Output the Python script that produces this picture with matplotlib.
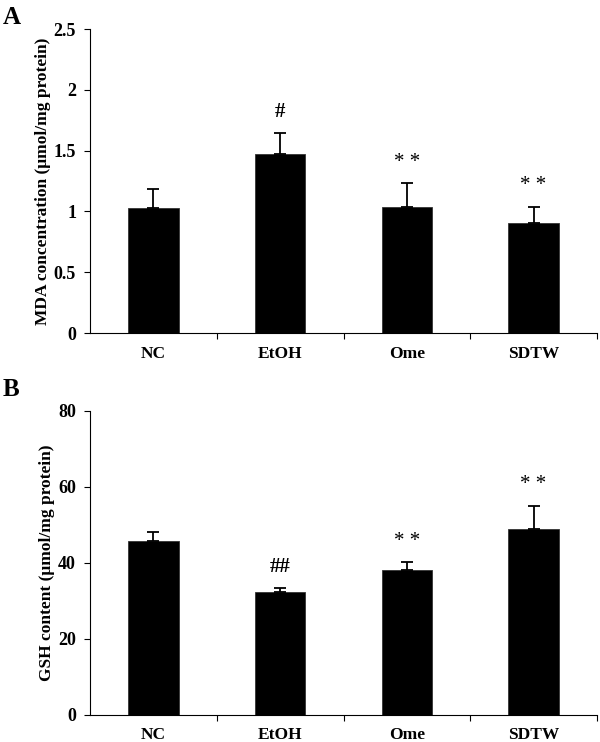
import matplotlib
matplotlib.use("Agg")
import matplotlib.pyplot as plt

plt.rcParams['font.family'] = ['Liberation Serif', 'DejaVu Serif']
plt.rcParams['font.weight'] = 'bold'

groups = ["NC", "EtOH", "Ome", "SDTW"]

# Panel A: MDA
mda_mean = [1.03, 1.47, 1.04, 0.905]
mda_err = [0.155, 0.175, 0.19, 0.135]
mda_marks = ["", "#", "* *", "* *"]

# Panel B: GSH
gsh_mean = [45.8, 32.3, 38.2, 48.8]
gsh_err = [2.2, 1.0, 2.0, 6.2]
gsh_marks = ["", "##", "* *", "* *"]


def draw_panel(ax, means, errs, marks, ylim, yticks, ylabel, mark_gap):
    x = list(range(len(groups)))
    ax.bar(x, means, width=0.4, color="black", edgecolor="#333333", linewidth=0.6, zorder=2)
    ax.errorbar(x, means, yerr=[[0] * len(errs), errs], fmt="none", ecolor="black",
                elinewidth=1.3, capsize=4, capthick=1.3, zorder=3)
    for xi, m, e, s in zip(x, means, errs, marks):
        if s:
            ax.text(xi, m + e + mark_gap, s, ha="center", va="center", fontsize=15,
                    fontweight="normal" if s.startswith("*") else "bold")
    ax.set_xlim(-0.5, 3.5)
    ax.set_ylim(*ylim)
    ax.set_yticks(yticks)
    ax.set_yticklabels([("%g" % t) for t in yticks], fontsize=13, fontweight="bold")
    ax.set_xticks([0.5, 1.5, 2.5, 3.5])
    ax.set_xticklabels([])
    ax.set_xticks(x, minor=True)
    ax.set_xticklabels(groups, minor=True, fontsize=12.5, fontweight="bold")
    ax.tick_params(axis="x", which="minor", length=0, pad=9)
    ax.tick_params(axis="x", which="major", length=4, direction="out")
    ax.tick_params(axis="y", length=4, direction="out", pad=6)
    ax.spines["top"].set_visible(False)
    ax.spines["right"].set_visible(False)
    ax.set_ylabel(ylabel, fontsize=12.5, fontweight="bold", labelpad=2)


fig = plt.figure(figsize=(6.0, 7.42), dpi=100)
ax1 = fig.add_axes([0.15, 0.5512, 0.845, 0.4097])
ax2 = fig.add_axes([0.15, 0.0364, 0.845, 0.4101])

draw_panel(ax1, mda_mean, mda_err, mda_marks, (0, 2.5), [0, 0.5, 1, 1.5, 2, 2.5],
           "MDA concentration (\u03bcmol/mg protein)", 0.17)
draw_panel(ax2, gsh_mean, gsh_err, gsh_marks, (0, 80), [0, 20, 40, 60, 80],
           "GSH content (\u03bcmol/mg protein)", 5.5)

fig.text(0.005, 0.992, "A", fontsize=18, fontweight="bold", va="top")
fig.text(0.005, 0.49, "B", fontsize=18, fontweight="bold", va="top")

fig.savefig("out.png", dpi=100)
